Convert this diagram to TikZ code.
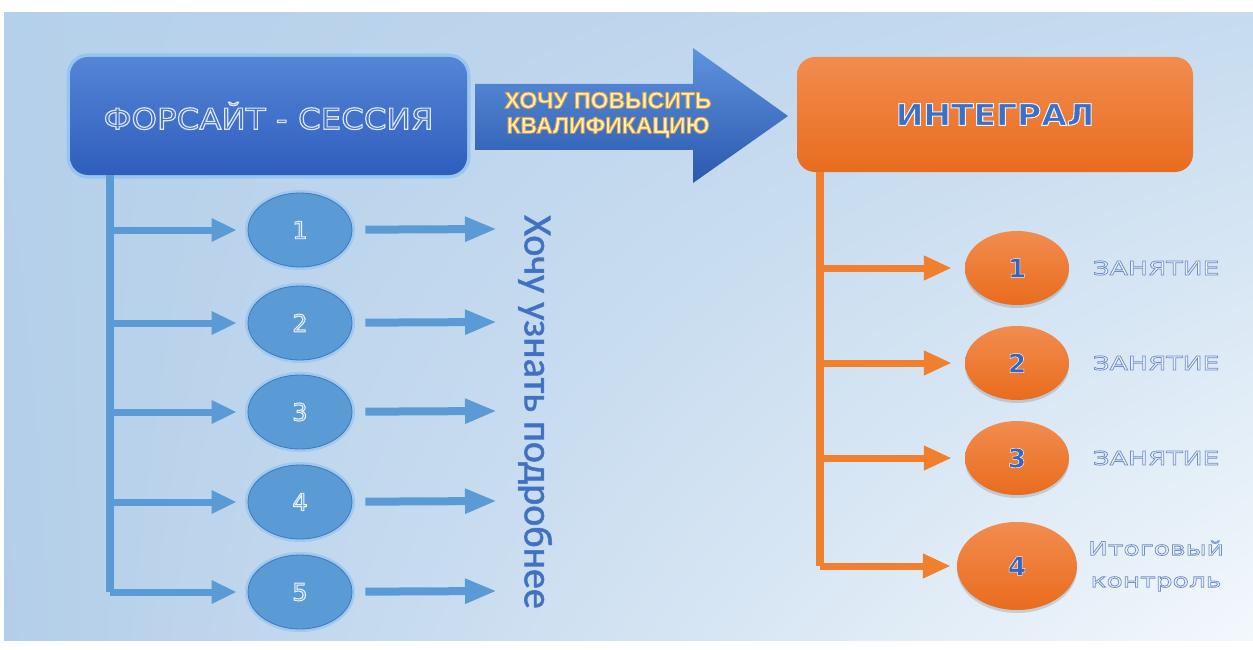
\documentclass[tikz,border=0pt]{standalone}
\usepackage{fontspec}
\usetikzlibrary{arrows.meta,shadows,shadings,shapes.geometric,calc}
\newfontfamily\headff[FakeStretch=1.12,FakeBold=4]{DejaVu Sans}
\newfontfamily\intff[FakeStretch=1.1,FakeBold=3.5]{DejaVu Sans Bold}
\newfontfamily\wideff[FakeStretch=1.4,FakeBold=4]{DejaVu Sans}
\newfontfamily\armff[FakeBold=4]{Liberation Sans Bold}
\newfontfamily\vertff[FakeBold=1.5]{Carlito}
\newfontfamily\numff[FakeBold=4]{DejaVu Sans}
\newfontfamily\onumff[FakeBold=2]{DejaVu Sans Bold}
% outlined text: fill colour #1, stroke colour #2 (r g b), text #3
\newcommand\oltext[3]{{\color{#1}\special{pdf:literal direct #2 RG}#3}}
\definecolor{bgUL}{HTML}{B5D0EA}
\definecolor{bgUR}{HTML}{C6DBEF}
\definecolor{bgLL}{HTML}{B3CEE9}
\definecolor{bgLR}{HTML}{F3F8FC}
\definecolor{fsTop}{HTML}{5585D5}
\definecolor{fsBot}{HTML}{2E5EBD}
\definecolor{fsMid}{HTML}{4373CA}
\definecolor{glowB}{HTML}{93C4F0}
\definecolor{arTop}{HTML}{5E93DE}
\definecolor{arBot}{HTML}{2A58AE}
\definecolor{arTxt}{HTML}{FFF3C0}
\definecolor{orTop}{HTML}{F28C4E}
\definecolor{orBot}{HTML}{E96C1E}
\definecolor{orLine}{HTML}{F07F2E}
\definecolor{intBlue}{HTML}{3D6FC4}
\definecolor{numBlue}{HTML}{3566BE}
\definecolor{bLine}{HTML}{5B9BD5}
\definecolor{bEdge}{HTML}{3F78BC}
\definecolor{vtBlue}{HTML}{4070C2}
\definecolor{lblIn}{HTML}{E9F0F8}
\begin{document}
\begin{tikzpicture}[x=1pt,y=-1pt,
  bigbox/.style={rounded corners=18pt, inner sep=0pt},
  bell/.style={ellipse, minimum width=104pt, minimum height=74pt, fill=bLine, draw=bEdge, line width=0.8pt,
     preaction={draw=glowB, line width=6pt, opacity=0.7}},
  oell/.style={ellipse, minimum width=104pt, minimum height=74pt, top color=orTop, bottom color=orBot,
     drop shadow={opacity=0.3, shadow xshift=0pt, shadow yshift=-3pt}},
  bline/.style={draw=bLine, line width=7pt, -{Triangle[length=25pt,width=22pt]}},
  btrunk/.style={draw=bLine, line width=8pt},
  barrow/.style={draw=bLine, line width=8pt, -{Triangle[length=32pt,width=23pt]}},
  oline/.style={draw=orLine, line width=7pt, -{Triangle[length=28pt,width=23pt]}},
  otrunk/.style={draw=orLine, line width=8pt},
  bnum/.style={font=\numff\fontsize{24}{24}\selectfont},
  onum/.style={font=\onumff\fontsize{26}{26}\selectfont},
  lbl/.style={font=\wideff\fontsize{19}{19}\selectfont, align=center}
]
\useasboundingbox (0,0) rectangle (1253,650);
\fill[white] (0,0) rectangle (1253,650);
\shade[upper left=bgUL, upper right=bgUR, lower left=bgLL, lower right=bgLR] (4,13) rectangle (1253,640);

% top boxes
\node[bigbox, minimum width=397pt, minimum height=118pt, top color=fsTop, bottom color=fsBot,
  preaction={draw=glowB, line width=7pt, opacity=0.85}] (fs) at (268.5,116)
  {\headff\fontsize{29}{29}\selectfont\oltext{fsMid}{0.88 0.91 0.97}{ФОРСАЙТ - СЕССИЯ}};
\node[bigbox, minimum width=396pt, minimum height=115pt, top color=orTop, bottom color=orBot] (int) at (995,114.5)
  {\intff\fontsize{30}{30}\selectfont\oltext{intBlue}{0.93 0.95 0.99}{ИНТЕГРАЛ}};

% big block arrow
\shade[top color=arTop, bottom color=arBot] (475,84) -- (693,84) -- (693,48) -- (788,116) -- (693,183) -- (693,150) -- (475,150) -- cycle;
\node[align=center, font=\armff\fontsize{23}{25}\selectfont, inner sep=0pt] (armt) at (608,115)
  {\oltext{arTxt}{0.89 0.63 0.25}{ХОЧУ ПОВЫСИТЬ}\\\oltext{arTxt}{0.89 0.63 0.25}{КВАЛИФИКАЦИЮ}};

% blue ellipses
\foreach \i/\y in {1/230,2/323,3/412,4/502,5/592}{
  \node[bell, bnum] (b\i) at (300,\y) {\oltext{bLine!85!white}{0.93 0.96 0.99}{\i}};
  \coordinate (t\i) at (497,\y-1);
}
\coordinate (bt) at (110,175);
\draw[btrunk] (bt) -- (bt |- b5);
\foreach \i in {1,...,5}{
  \draw[bline, shorten >=11pt] (bt |- b\i) -- (b\i);
  \draw[barrow, shorten <=13pt] (b\i) -- (t\i);
}

% vertical text
\node[rotate=-90, font=\vertff\fontsize{40}{40}\selectfont, inner sep=0pt] (vt) at (535,412)
  {\oltext{vtBlue}{0.30 0.47 0.78}{Хочу узнать подробнее}};

% orange ellipses
\node[oell, onum] (o1) at (1017,268) {\oltext{numBlue}{0.95 0.96 1}{1}};
\node[oell, onum] (o2) at (1017,363) {\oltext{numBlue}{0.95 0.96 1}{2}};
\node[oell, onum] (o3) at (1017,458) {\oltext{numBlue}{0.95 0.96 1}{3}};
\node[oell, onum, minimum width=120pt, minimum height=88pt] (o4) at (1017,566) {\oltext{numBlue}{0.95 0.96 1}{4}};
\coordinate (ot) at (820,172);
\draw[otrunk] (ot) -- (ot |- o4);
\draw[oline, shorten >=13pt] (ot |- o1) -- (o1);
\draw[oline, shorten >=13pt] (ot |- o2) -- (o2);
\draw[oline, shorten >=13pt] (ot |- o3) -- (o3);
\draw[oline, shorten >=6pt] (ot |- o4) -- (o4);

% labels
\node[lbl] (l1) at (1156,268) {\oltext{lblIn}{0.44 0.56 0.77}{ЗАНЯТИЕ}};
\node[lbl] (l2) at (1156,363) {\oltext{lblIn}{0.44 0.56 0.77}{ЗАНЯТИЕ}};
\node[lbl] (l3) at (1156,458) {\oltext{lblIn}{0.44 0.56 0.77}{ЗАНЯТИЕ}};
\node[lbl, font=\wideff\fontsize{19}{32}\selectfont] (l4) at (1156,566)
  {\oltext{lblIn}{0.44 0.56 0.77}{Итоговый}\\\oltext{lblIn}{0.44 0.56 0.77}{контроль}};
\end{tikzpicture}
\end{document}
